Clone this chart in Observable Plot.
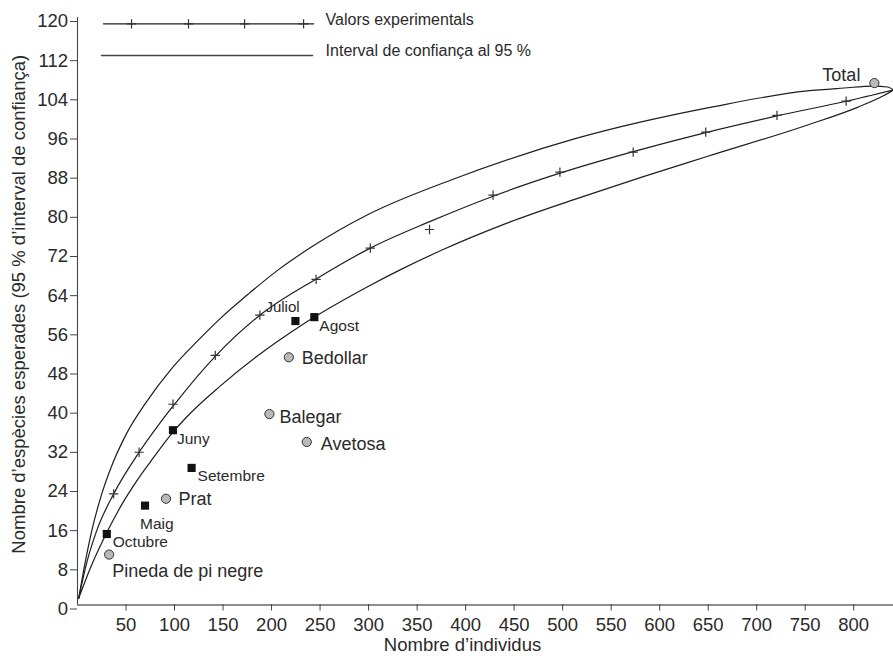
<!DOCTYPE html>
<html>
<head>
<meta charset="utf-8">
<script src="https://cdn.jsdelivr.net/npm/d3@7"></script>
<script src="https://cdn.jsdelivr.net/npm/@observablehq/plot@0.6"></script>
<style>
  html, body { margin: 0; padding: 0; background: #fff; }
  #chart { width: 893px; height: 656px; }
</style>
</head>
<body>
<div id="chart"></div>
<script>
// ---- Data ----
const xTicks = [50,100,150,200,250,300,350,400,450,500,550,600,650,700,750,800];
const yTicks = [0,8,16,24,32,40,48,56,64,72,80,88,96,104,112,120];

// Experimental values (+ marks)
const expX = [37.3, 63.5, 98.4, 142, 188, 245.9, 301.8, 362.8, 428.3, 497.2, 572.7, 647.5, 720.9, 792.2];
const expY = [22.7, 31.2, 41.0, 51.0, 59.2, 66.5, 72.9, 76.7, 83.7, 88.4, 92.5, 96.6, 100.0, 102.9];

// Expected (middle) curve
const midX = [1.3, 10, 20, 37.3, 63.5, 84, 98.4, 142, 188, 246, 301.8, 363, 428.3, 497.2, 572.7, 647.5, 720.9, 792.2, 841];
const midY = [1.4, 9, 15.3, 22.7, 31.2, 36.9, 40.6, 50.8, 59.2, 66.6, 72.9, 78.3, 83.5, 88.2, 92.6, 96.5, 99.9, 102.9, 105.2];

// Upper 95% bound
const upX = [1.3, 8, 15, 24.7, 35, 50, 70, 97, 124, 146, 176, 206.5, 241, 300, 385, 512, 656, 752, 790, 820, 835, 841];
const upY = [1.4, 8.8, 15.4, 22.5, 28.3, 34.8, 41.2, 48.3, 54, 58.3, 63.5, 68.4, 73.1, 79.8, 86.8, 95.2, 101.8, 105, 105.6, 106, 105.8, 105.2];

// Lower 95% bound
const loX = [1.3, 13.4, 30.2, 45, 62, 75, 98.4, 112, 146.4, 185, 230.5, 299, 333, 374.5, 440, 511.6, 580, 648.8, 751.7, 803.2, 830.6, 841];
const loY = [1.4, 7.6, 14.8, 20.3, 25.6, 29.2, 35.3, 38.3, 44.6, 50.8, 57.1, 65, 68.5, 72.4, 77.8, 82.8, 87.3, 91.6, 98, 101.6, 104, 105.2];

// Months (black squares)
const monthNames = ["Octubre", "Maig", "Juny", "Setembre", "Juliol", "Agost"];
const monthX = [30.2, 69.6, 98.4, 117.6, 224.6, 244.1];
const monthY = [14.5, 20.3, 35.7, 28.0, 58.0, 58.8];

// Habitats (grey circles)
const habNames = ["Pineda de pi negre", "Prat", "Balegar", "Avetosa", "Bedollar", "Total"];
const habX = [32.6, 91.2, 197.8, 236.3, 217.8, 821.3];
const habY = [10.3, 21.7, 39.0, 33.3, 50.6, 106.6];

// Legend
const legendLabels = ["Valors experimentals", "Interval de confiança al 95 %"];

const xTitle = "Nombre d’individus";
const yTitle = "Nombre d’espècies esperades (95 % d’interval de confiança)";

// ---- Build tables ----
const zip = (xs, ys) => xs.map((x, i) => ({x, y: ys[i]}));
const expData = zip(expX, expY);
const midData = zip(midX, midY);
const upData = zip(upX, upY);
const loData = zip(loX, loY);
const months = monthNames.map((n, i) => ({name: n, x: monthX[i], y: monthY[i]}));
const habs = habNames.map((n, i) => ({name: n, x: habX[i], y: habY[i]}));

// label placement (pixel offsets)
const labelStyle = {
  "Octubre": {dx: 6, dy: 8, size: 15.5, anchor: "start"},
  "Maig": {dx: -5, dy: 18, size: 15.5, anchor: "start"},
  "Juny": {dx: 4, dy: 8.5, size: 15.5, anchor: "start"},
  "Setembre": {dx: 6, dy: 8, size: 15.5, anchor: "start"},
  "Juliol": {dx: -30, dy: -14, size: 15, anchor: "start"},
  "Agost": {dx: 5, dy: 8.5, size: 15.5, anchor: "start"},
  "Pineda de pi negre": {dx: 3, dy: 16.5, size: 18, anchor: "start"},
  "Prat": {dx: 12.5, dy: 0.5, size: 18, anchor: "start"},
  "Balegar": {dx: 10, dy: 3, size: 18, anchor: "start"},
  "Avetosa": {dx: 14, dy: 2, size: 18, anchor: "start"},
  "Bedollar": {dx: 13, dy: 0.5, size: 18, anchor: "start"},
  "Total": {dx: -14, dy: -8, size: 18, anchor: "end"}
};

const labelMarks = months.concat(habs).map(d => {
  const s = labelStyle[d.name];
  return Plot.text([d], {x: "x", y: "y", text: "name", dx: s.dx, dy: s.dy,
    textAnchor: s.anchor, lineAnchor: "middle", fontSize: s.size, fill: "#2a2a2a"});
});

// legend geometry in data units
const leg1 = [{x: 26.8, y: 118.7}, {x: 243.3, y: 118.7}];
const leg1Plus = [55.7, 114.4, 172.2, 233].map(x => ({x, y: 118.7}));
const leg2 = [{x: 24.7, y: 112.25}, {x: 242.3, y: 112.25}];
const legText = [{t: legendLabels[0], x: 255.7, y: 119.5}, {t: legendLabels[1], x: 255.7, y: 113.2}];

const ink = "#1e1e1e";

const chart = Plot.plot({
  width: 893,
  height: 656,
  marginLeft: 77,
  marginRight: 0,
  marginTop: 17,
  marginBottom: 51.5,
  x: {domain: [0, 841]},
  y: {domain: [0, 120]},
  style: {fontFamily: "'Liberation Sans', Arial, Helvetica, sans-serif", color: "#2a2a2a", background: "#fff", overflow: "visible"},
  marks: [
    Plot.axisX({ticks: xTicks, tickSize: 6, tickPadding: 7, fontSize: 18.5, label: null, tickFormat: d => String(d), stroke: "#444"}),
    Plot.axisY({ticks: yTicks, tickSize: 7, tickPadding: 2.5, fontSize: 18.5, label: null, tickFormat: d => String(d), dy: 4, stroke: "#444"}),
    Plot.ruleY([0], {stroke: ink, strokeWidth: 1.1}),
    Plot.ruleX([0], {y1: 0, y2: 120, stroke: "#444", strokeWidth: 1.1}),
    Plot.text([xTitle], {frameAnchor: "bottom", textAnchor: "middle", lineAnchor: "middle", dx: -23, dy: 40.5, fontSize: 18.5, fill: "#2a2a2a"}),
    Plot.text([yTitle], {frameAnchor: "left", textAnchor: "middle", lineAnchor: "middle", rotate: -90, dx: -58, dy: -7, fontSize: 18.5, fill: "#2a2a2a"}),
    // curves
    Plot.line(upData, {x: "x", y: "y", curve: "monotone-x", stroke: ink, strokeWidth: 1.2}),
    Plot.line(loData, {x: "x", y: "y", curve: "monotone-x", stroke: ink, strokeWidth: 1.2}),
    Plot.line(midData, {x: "x", y: "y", curve: "monotone-x", stroke: ink, strokeWidth: 1.2}),
    Plot.dot(expData, {x: "x", y: "y", symbol: "plus", r: 3.1, stroke: "#333", strokeWidth: 1.2}),
    // points
    Plot.dot(months, {x: "x", y: "y", symbol: "square", r: 4.6, fill: "#111", stroke: "none"}),
    Plot.dot(habs, {x: "x", y: "y", r: 4.6, fill: "#b9b9b9", stroke: "#333", strokeWidth: 1}),
    ...labelMarks,
    // legend
    Plot.line(leg1, {x: "x", y: "y", stroke: ink, strokeWidth: 1.2}),
    Plot.dot(leg1Plus, {x: "x", y: "y", symbol: "plus", r: 3.1, stroke: "#333", strokeWidth: 1.2}),
    Plot.line(leg2, {x: "x", y: "y", stroke: "#444", strokeWidth: 1.4}),
    Plot.text(legText, {x: "x", y: "y", text: "t", textAnchor: "start", lineAnchor: "middle", fontSize: 16, fill: "#2a2a2a"})
  ]
});
document.getElementById("chart").appendChild(chart);
</script>
</body>
</html>
